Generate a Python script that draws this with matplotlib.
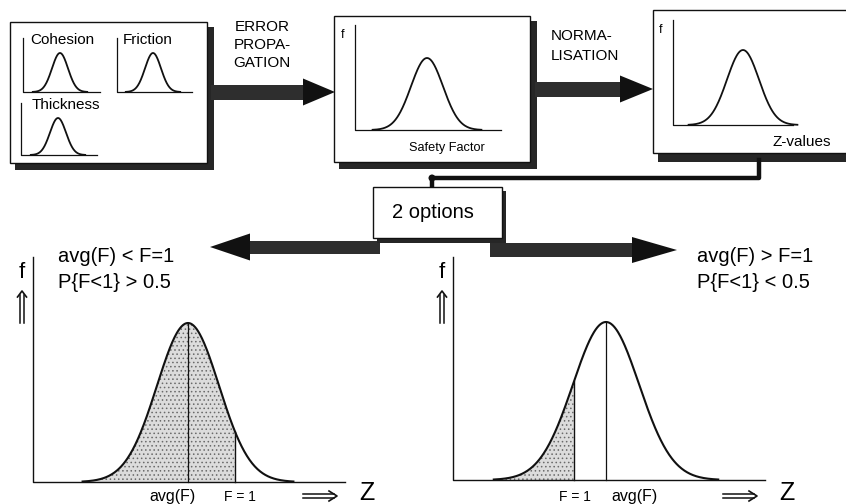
import numpy as np
import matplotlib
matplotlib.use("Agg")
import matplotlib.pyplot as plt
from matplotlib.patches import Rectangle, Polygon, Circle

plt.rcParams["font.family"] = ["Liberation Sans", "DejaVu Sans"]
plt.rcParams["hatch.linewidth"] = 0.6
W, H = 846, 504
INK, SHADOW, SHAFT = "#111111", "#262626", "#2e2e2e"

# --- schematic distributions (pixel units) ---
mini_names = ["Cohesion", "Friction", "Thickness"]
mini_axis_x = [23, 117, 21]
mini_axis_top = [38, 38, 103]
mini_axis_right = [100, 192, 97]
mini_base = [92, 92, 155]
mini_mean = [60, 153, 58]
mini_sigma = [8, 8, 8]
mini_peak = [53, 53, 118]
mini_label_dx = [7, 6, 11]

stage_labels = ["Safety Factor", "Z-values"]
stage_axis_x = [355, 673]
stage_axis_top = [25, 20]
stage_axis_right = [501, 793]
stage_base = [130, 125]
stage_mean = [427, 743]
stage_sigma = [16, 16]
stage_peak = [58, 50]

option_text = [["avg(F) < F=1", "P{F<1} > 0.5"], ["avg(F) > F=1", "P{F<1} < 0.5"]]
option_axis_x = [33, 453]
option_axis_right = [345, 765]
option_base = [482, 480]
option_mean = [188, 606]
option_sigma = [31, 33]
option_peak = [323, 322]
option_f1 = [235, 574]

fig = plt.figure(figsize=(W / 100, H / 100), dpi=100)
ax = fig.add_axes([0, 0, 1, 1])
ax.set_xlim(0, W); ax.set_ylim(H, 0); ax.axis("off")


def bell(mu, sig, base, peak, n=200):
    x = np.linspace(mu - 3.4 * sig, mu + 3.4 * sig, n)
    return x, base - (base - peak) * np.exp(-0.5 * ((x - mu) / sig) ** 2)


def shadow_box(x0, y0, x1, y1, d=7):
    ax.add_patch(Rectangle((x0 + 5, y0 + 5), x1 - x0 + d - 5, y1 - y0 + d - 5, fc=SHADOW, ec="none", zorder=1))
    ax.add_patch(Rectangle((x0, y0), x1 - x0, y1 - y0, fc="white", ec=INK, lw=1.0, zorder=2))


def block_arrow(x_tail, x_tip, yc, sh, hl, hh):
    s = np.sign(x_tip - x_tail)
    xb = x_tip - s * hl
    ax.add_patch(Polygon([(x_tail, yc - sh), (xb, yc - sh), (xb, yc + sh), (x_tail, yc + sh)],
                         closed=True, fc=SHAFT, ec="none", zorder=1))
    ax.add_patch(Polygon([(xb, yc - hh), (x_tip, yc), (xb, yc + hh)], closed=True, fc=INK, ec="none", zorder=1))


def up_arrow(x, y0, y1):
    ax.plot([x - 1.8, x - 1.8], [y0, y1 + 4], color=INK, lw=1.1)
    ax.plot([x + 1.8, x + 1.8], [y0, y1 + 4], color=INK, lw=1.1)
    ax.plot([x - 4.5, x, x + 4.5], [y1 + 6, y1, y1 + 6], color=INK, lw=1.2)


def right_arrow(x0, x1, y):
    ax.plot([x0, x1 - 3], [y - 1.8, y - 1.8], color=INK, lw=1.1)
    ax.plot([x0, x1 - 3], [y + 1.8, y + 1.8], color=INK, lw=1.1)
    ax.plot([x1 - 8, x1, x1 - 8], [y - 5, y, y + 5], color=INK, lw=1.2)


# ---------- top row: inputs -> safety factor -> Z-values ----------
shadow_box(10, 22, 207, 163)
for i, name in enumerate(mini_names):
    xa, b = mini_axis_x[i], mini_base[i]
    ax.plot([xa, xa, mini_axis_right[i]], [mini_axis_top[i], b, b], color=INK, lw=0.9, zorder=3)
    x, y = bell(mini_mean[i], mini_sigma[i], b, mini_peak[i])
    ax.plot(x, y, color=INK, lw=1.3, zorder=3)
    ax.text(xa + mini_label_dx[i], mini_axis_top[i] + 2, name, fontsize=11, va="center", ha="left", zorder=3)

block_arrow(211, 335, 92, 7.5, 32, 13.5)
ax.text(262, 45, "ERROR\nPROPA-\nGATION", fontsize=11, ha="center", va="center", linespacing=1.4)

shadow_box(334, 16, 530, 162)
block_arrow(535, 653, 89, 7.5, 33, 13.5)
ax.text(551, 46, "NORMA-\nLISATION", fontsize=11, ha="left", va="center", linespacing=1.55)

ax.add_patch(Rectangle((658, 153), W - 658, 9, fc=SHADOW, ec="none", zorder=1))
ax.add_patch(Rectangle((653, 10), W - 653 + 5, 143, fc="white", ec=INK, lw=1.0, zorder=2))

for i, lab in enumerate(stage_labels):
    xa, b = stage_axis_x[i], stage_base[i]
    ax.plot([xa, xa, stage_axis_right[i]], [stage_axis_top[i], b, b], color=INK, lw=0.9, zorder=3)
    x, y = bell(stage_mean[i], stage_sigma[i], b, stage_peak[i])
    ax.plot(x, y, color=INK, lw=1.3, zorder=3)
    ax.text(xa - 12, stage_axis_top[i] + 10, "f", fontsize=9, ha="center", va="center", zorder=3)
ax.text(447, 148, stage_labels[0], fontsize=9.2, ha="center", va="center", zorder=3)
ax.text(802, 142, stage_labels[1], fontsize=11, ha="center", va="center", zorder=3)

# connector to the "2 options" box
ax.plot([759, 759, 432, 432], [160, 178, 178, 190], color=INK, lw=3.2, solid_joinstyle="round", zorder=1)
ax.add_patch(Circle((432, 178), 3.5, fc=INK, ec="none", zorder=1))

# ---------- two options ----------
block_arrow(380, 210, 247, 6.5, 40, 13.5)
block_arrow(490, 677, 250, 7, 45, 13)
ax.add_patch(Rectangle((377, 191), 129, 52, fc=SHADOW, ec="none", zorder=2))
ax.add_patch(Rectangle((373, 187), 129, 51, fc="white", ec=INK, lw=1.0, zorder=3))
ax.text(433, 213, "2 options", fontsize=14.5, ha="center", va="center", zorder=4)

text_x = [58, 697]
for i in range(2):
    xa, b = option_axis_x[i], option_base[i]
    ax.plot([xa, xa, option_axis_right[i]], [257, b, b], color=INK, lw=1.0)
    x, y = bell(option_mean[i], option_sigma[i], b, option_peak[i], 400)
    m = x <= option_f1[i]
    ax.fill_between(x[m], y[m], b, facecolor="#dcdcdc", edgecolor="#6a6a6a", hatch="....", lw=0)
    ax.plot(x, y, color=INK, lw=1.5)
    ax.plot([option_f1[i]] * 2, [b, np.interp(option_f1[i], x, y)], color=INK, lw=1.0)
    ax.plot([option_mean[i]] * 2, [b, option_peak[i]], color=INK, lw=0.9)
    ax.text(xa - 11, 273, "f", fontsize=16, ha="center", va="center")
    up_arrow(xa - 11, 323, 291)
    ax.text(text_x[i], 256, option_text[i][0], fontsize=14.5, ha="left", va="center")
    ax.text(text_x[i], 283, option_text[i][1], fontsize=14.5, ha="left", va="center")
    right_arrow(xa + 270, xa + 304, 496)
    ax.text(xa + 334, 493, "Z", fontsize=18, ha="center", va="center")

ax.text(173, 496, "avg(F)", fontsize=11.5, ha="center", va="center")
ax.text(240, 497, "F = 1", fontsize=10, ha="center", va="center")
ax.text(575, 497, "F = 1", fontsize=10, ha="center", va="center")
ax.text(635, 496, "avg(F)", fontsize=11.5, ha="center", va="center")

fig.savefig("out.png", dpi=100)
